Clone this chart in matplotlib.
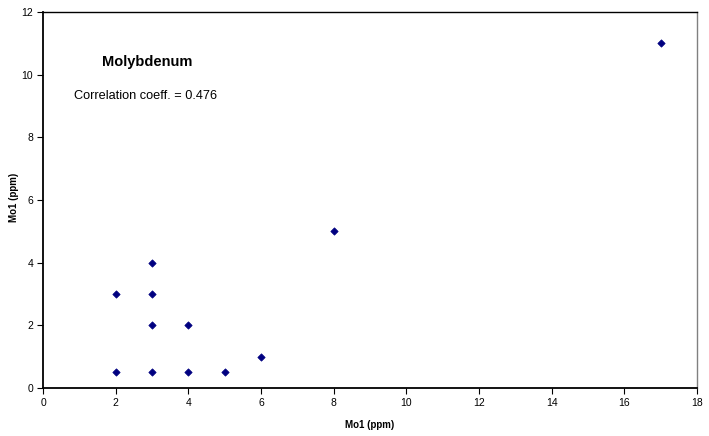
import matplotlib
matplotlib.use("Agg")
import matplotlib.pyplot as plt

plt.rcParams['font.family'] = ['Liberation Sans', 'DejaVu Sans']

# Molybdenum paired measurements (ppm)
mo_x = [2, 2, 3, 3, 3, 3, 4, 4, 5, 6, 8, 17]
mo_y = [0.5, 3, 0.5, 2, 3, 4, 0.5, 2, 0.5, 1, 5, 11]
x_ticks = [0, 2, 4, 6, 8, 10, 12, 14, 16, 18]
y_ticks = [0, 2, 4, 6, 8, 10, 12]
corr_coeff = 0.476

fig = plt.figure(figsize=(7.09, 4.36), dpi=100)
ax = fig.add_axes([0.0607, 0.110, 0.9224, 0.8625])

ax.scatter(mo_x, mo_y, marker='D', s=14, color='#000080', edgecolors='#000080',
           linewidths=0.5, zorder=3)

ax.set_xlim(0, 18)
ax.set_ylim(0, 12)
ax.set_xticks(x_ticks)
ax.set_yticks(y_ticks)
ax.tick_params(axis='both', direction='out', length=4, width=0.8, labelsize=7.5, pad=3)

for side in ('left', 'bottom'):
    ax.spines[side].set_linewidth(1.3)
    ax.spines[side].set_color('black')
ax.spines['top'].set_linewidth(1.0)
ax.spines['top'].set_color('black')
ax.spines['right'].set_linewidth(1.0)
ax.spines['right'].set_color('#808080')

# Axis titles placed in figure coordinates
fig.text(0.522, 0.025, 'Mo1 (ppm)', fontsize=7, fontweight='bold',
         ha='center', va='center')
fig.text(0.020, 0.548, 'Mo1 (ppm)', fontsize=7, fontweight='bold',
         ha='center', va='center', rotation=90)

ax.text(0.159, 0.867, 'Molybdenum', transform=ax.transAxes, fontsize=10.5,
        fontweight='bold', ha='center', va='center')
ax.text(0.0475, 0.777, f'Correlation coeff. = {corr_coeff}', transform=ax.transAxes,
        fontsize=9.2, ha='left', va='center')

fig.savefig('out.png', dpi=100)
